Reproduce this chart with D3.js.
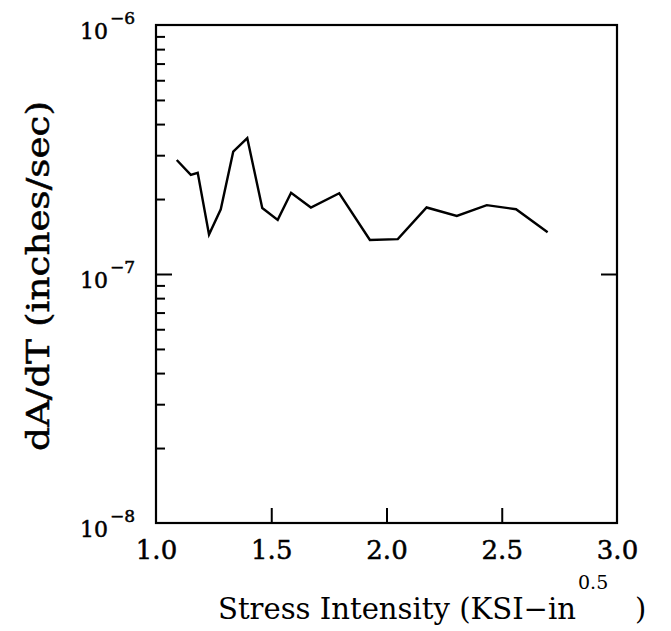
<!DOCTYPE html>
<html>
<head>
<meta charset="utf-8">
<script src="https://cdn.jsdelivr.net/npm/d3@7"></script>
<style>
  html, body { margin: 0; padding: 0; background: #fff; }
  svg { display: block; }
  text { font-family: "DejaVu Serif", "Liberation Serif", serif; fill: #000; }
</style>
</head>
<body>
<script>
// ---- data ----
const stressIntensity = [1.090, 1.151, 1.181, 1.230, 1.281, 1.335, 1.396, 1.461, 1.528, 1.586,
                         1.672, 1.795, 1.928, 2.049, 2.174, 2.305, 2.435, 2.562, 2.699];
const crackRate = [2.87e-7, 2.50e-7, 2.55e-7, 1.44e-7, 1.82e-7, 3.10e-7, 3.51e-7, 1.84e-7, 1.65e-7, 2.12e-7,
                   1.85e-7, 2.11e-7, 1.37e-7, 1.38e-7, 1.85e-7, 1.71e-7, 1.89e-7, 1.82e-7, 1.47e-7];
const xTickLabels = [1.0, 1.5, 2.0, 2.5, 3.0];
const xMajorTicks = [1.5, 2.0, 2.5];
const yDecades = [1e-8, 1e-7, 1e-6];
const yExponents = ["-8", "-7", "-6"];
const yMinorMult = [2, 3, 4, 5, 6, 7, 8, 9];
const xTitle = "Stress Intensity (KSI\u2212in";
const xTitleSup = "0.5";
const yTitle = "dA/dT (inches/sec)";

// ---- layout ----
const W = 671, H = 631;
const L = 156, R = 617, T = 25, B = 523;

const svg = d3.select("body").append("svg").attr("width", W).attr("height", H);

const x = d3.scaleLinear().domain([1.0, 3.0]).range([L, R]);
const y = d3.scaleLog().domain([1e-8, 1e-6]).range([B, T]);

const styleTicks = g => {
  g.select(".domain").remove();
  g.selectAll("line").attr("stroke", "#000").attr("stroke-width", 2);
};

// minor ticks on left axis
const minorVals = [];
[1e-8, 1e-7].forEach(d => yMinorMult.forEach(m => minorVals.push(d * m)));

svg.append("g").attr("transform", `translate(${L},0)`)
  .call(d3.axisLeft(y).tickValues(minorVals).tickSize(-9).tickFormat(""))
  .call(styleTicks);

// major tick on left and right at 1e-7
svg.append("g").attr("transform", `translate(${L},0)`)
  .call(d3.axisLeft(y).tickValues([1e-7]).tickSize(-16).tickFormat(""))
  .call(styleTicks);
svg.append("g").attr("transform", `translate(${R},0)`)
  .call(d3.axisRight(y).tickValues([1e-7]).tickSize(-16).tickFormat(""))
  .call(styleTicks);

// bottom ticks
svg.append("g").attr("transform", `translate(0,${B})`)
  .call(d3.axisBottom(x).tickValues(xMajorTicks).tickSize(-15).tickFormat(""))
  .call(styleTicks);

// bottom tick labels
svg.append("g").attr("transform", `translate(0,${B})`)
  .call(d3.axisBottom(x).tickValues(xTickLabels).tickSize(0).tickPadding(18).tickFormat(d3.format(".1f")))
  .call(g => g.select(".domain").remove())
  .call(g => g.selectAll("text")
     .attr("font-family", "DejaVu Serif").attr("font-size", 26).attr("fill", "#000")
     .attr("stroke", "#000").attr("stroke-width", 0.5).attr("dy", "0.71em"));

// y decade labels 10^n
const ylab = svg.append("g");
yDecades.forEach((d, i) => {
  const yy = y(d);
  const t = ylab.append("text")
    .attr("x", L - 21).attr("y", yy + 14)
    .attr("text-anchor", "end")
    .attr("font-size", 22)
    .attr("stroke", "#000").attr("stroke-width", 0.5);
  t.append("tspan").text("10");
  t.append("tspan").attr("dy", -15).attr("dx", 2).attr("font-size", 17).text(yExponents[i].replace("-", "\u2212"));
});

// frame
svg.append("rect")
  .attr("x", L).attr("y", T).attr("width", R - L).attr("height", B - T)
  .attr("fill", "none").attr("stroke", "#000").attr("stroke-width", 2.2);

// data line
const line = d3.line().x((d, i) => x(stressIntensity[i])).y((d, i) => y(crackRate[i]));
svg.append("path")
  .datum(crackRate)
  .attr("d", line)
  .attr("fill", "none").attr("stroke", "#000").attr("stroke-width", 2.4)
  .attr("stroke-linejoin", "miter");

// x title
const xt = svg.append("text")
  .attr("y", 619)
  .attr("font-size", 29);
xt.append("tspan").attr("x", 218).attr("textLength", 358).attr("lengthAdjust", "spacingAndGlyphs").text(xTitle);
xt.append("tspan").attr("x", 578).attr("dy", -30).attr("font-size", 19).text(xTitleSup);
xt.append("tspan").attr("x", 635).attr("dy", 30).text(")");

// y title
svg.append("text")
  .attr("transform", `translate(49,276) rotate(-90)`)
  .attr("text-anchor", "middle")
  .attr("font-size", 32)
  .attr("textLength", 350).attr("lengthAdjust", "spacingAndGlyphs")
  .attr("stroke", "#000").attr("stroke-width", 0.5)
  .text(yTitle);
</script>
</body>
</html>
